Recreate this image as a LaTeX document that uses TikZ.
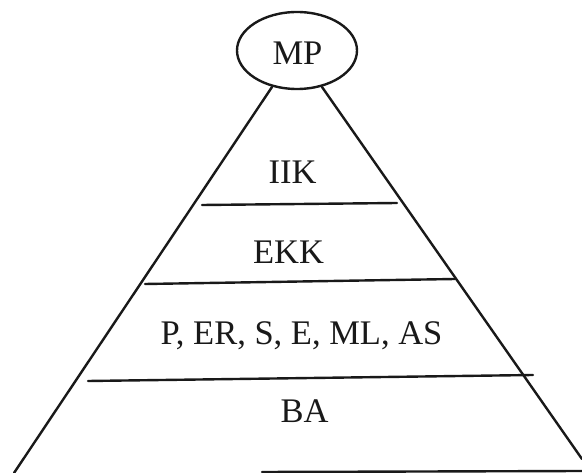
\documentclass[tikz,border=0pt]{standalone}
\usepackage{fontspec}
\setmainfont{Liberation Serif}
\usetikzlibrary{shapes.geometric}
\begin{document}
\begin{tikzpicture}[x=1pt,y=-1pt,
  edge/.style={line width=2.4pt, line cap=round, draw=black!90},
  lbl/.style={font=\fontsize{34.5}{40}\selectfont, text=black!90, anchor=base, inner sep=0pt},
  oval/.style={draw=black!90, ellipse, line width=2.4pt, minimum width=120pt, minimum height=77pt, inner sep=0pt}]
\useasboundingbox (0,0) rectangle (582,473);
\node[oval] (mp) at (297,50.5) {};
\node[lbl] (mptext) at (297.5,65) {MP};
% pyramid corners
\coordinate (tl) at (272,87);
\coordinate (tr) at (322,87);
\coordinate (bl) at (14,473);
\coordinate (br) at (582,459);
\draw[edge] (tl) -- (bl);
\draw[edge] (tr) -- (br);
% layer separators
\coordinate (s1a) at (202,205); \coordinate (s1b) at (397,203);
\coordinate (s2a) at (145,284); \coordinate (s2b) at (455,279);
\coordinate (s3a) at (88,381);  \coordinate (s3b) at (533,375);
\coordinate (s4a) at (262,472); \coordinate (s4b) at (582,471);
\draw[edge] (s1a) -- (s1b);
\draw[edge] (s2a) -- (s2b);
\draw[edge] (s3a) -- (s3b);
\draw[edge] (s4a) -- (s4b);
% labels
\node[lbl] (iik) at (292.5,184) {IIK};
\node[lbl] (ekk) at (288.5,264) {EKK};
\node[lbl] (mid) at (301.5,345) {P, ER, S, E, ML, AS};
\node[lbl] (ba) at (304.5,423) {BA};
\end{tikzpicture}
\end{document}
